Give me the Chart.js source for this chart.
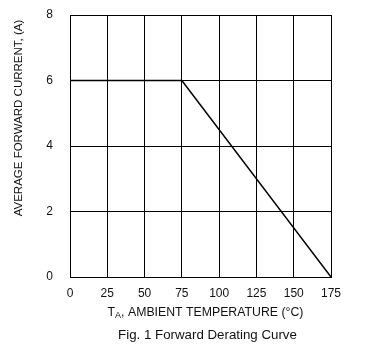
<!DOCTYPE html>
<html>
<head>
<meta charset="utf-8">
<script src="https://cdn.jsdelivr.net/npm/chart.js@4/dist/chart.umd.min.js"></script>
<style>
  html, body { margin: 0; padding: 0; background: #fff; }
  #wrap { position: relative; width: 376px; height: 347px; }
</style>
</head>
<body>
<div id="wrap"><canvas id="chart" width="376" height="347"></canvas></div>
<script>
'use strict';

/* ---- data ---- */
var tempC      = [0, 75, 175];           // ambient temperature, °C
var currentA   = [6, 6, 0];              // average forward current, A
var xTickVals  = [0, 25, 50, 75, 100, 125, 150, 175];
var yTickVals  = [0, 2, 4, 6, 8];

var yTitle   = 'AVERAGE FORWARD CURRENT, (A)';
var xTitleA  = 'T';
var xTitleSub = 'A';
var xTitleB  = ', AMBIENT TEMPERATURE (°C)';
var caption  = 'Fig. 1 Forward Derating Curve';

var FONT = 'Arial, "Liberation Sans", Helvetica, sans-serif';
var INK  = '#111';

/* titles drawn by hand so the x title can carry its subscript */
var titlesPlugin = {
  id: 'titles',
  afterDraw: function (chart) {
    var ctx = chart.ctx, ca = chart.chartArea;
    ctx.save();
    ctx.fillStyle = INK;
    ctx.textBaseline = 'middle';

    // y title, rotated
    ctx.font = '11.5px ' + FONT;
    ctx.translate(19, 118);
    ctx.rotate(-Math.PI / 2);
    ctx.textAlign = 'center';
    ctx.fillText(yTitle, 0, 0);
    ctx.setTransform(1, 0, 0, 1, 0, 0);

    // x title with subscript
    var big = '12.3px ' + FONT, small = '9px ' + FONT;
    ctx.font = big;   var wA = ctx.measureText(xTitleA).width;
    var wB = ctx.measureText(xTitleB).width;
    ctx.font = small; var wS = ctx.measureText(xTitleSub).width;
    var cx = (ca.left + ca.right) / 2 + 5;
    var x0 = cx - (wA + wS + wB) / 2, y0 = 313;
    ctx.textAlign = 'left';
    ctx.font = big;   ctx.fillText(xTitleA, x0, y0);
    ctx.font = small; ctx.fillText(xTitleSub, x0 + wA, y0 + 3);
    ctx.font = big;   ctx.fillText(xTitleB, x0 + wA + wS, y0);

    // caption
    ctx.font = '13.3px ' + FONT;
    ctx.textAlign = 'center';
    ctx.fillText(caption, cx + 2, 335);
    ctx.restore();
  }
};

new Chart(document.getElementById('chart').getContext('2d'), {
  type: 'line',
  data: {
    datasets: [{
      data: tempC.map(function (t, i) { return { x: t, y: currentA[i] }; }),
      borderColor: '#000',
      borderWidth: 1.5,
      pointRadius: 0,
      tension: 0,
      fill: false
    }]
  },
  options: {
    responsive: false,
    animation: false,
    devicePixelRatio: 1,
    layout: { padding: { left: 0, right: 45, top: 15, bottom: 0 } },
    plugins: { legend: { display: false }, tooltip: { enabled: false } },
    scales: {
      x: {
        type: 'linear', min: 0, max: 175,
        afterBuildTicks: function (s) { s.ticks = xTickVals.map(function (v) { return { value: v }; }); },
        afterFit: function (s) { s.height = 70; },
        grid: { color: '#000', lineWidth: 1, drawTicks: false },
        border: { color: '#000', width: 1 },
        ticks: { padding: 9, maxRotation: 0, color: INK, font: { family: FONT, size: 12 } }
      },
      y: {
        min: 0, max: 8,
        afterBuildTicks: function (s) { s.ticks = yTickVals.map(function (v) { return { value: v }; }); },
        afterFit: function (s) { s.width = 70; s.paddingTop = 0; s.paddingBottom = 0; },
        grid: { color: '#000', lineWidth: 1, drawTicks: false },
        border: { color: '#000', width: 1 },
        ticks: { padding: 17, color: INK, font: { family: FONT, size: 12 } }
      }
    }
  },
  plugins: [titlesPlugin]
});
</script>
</body>
</html>
